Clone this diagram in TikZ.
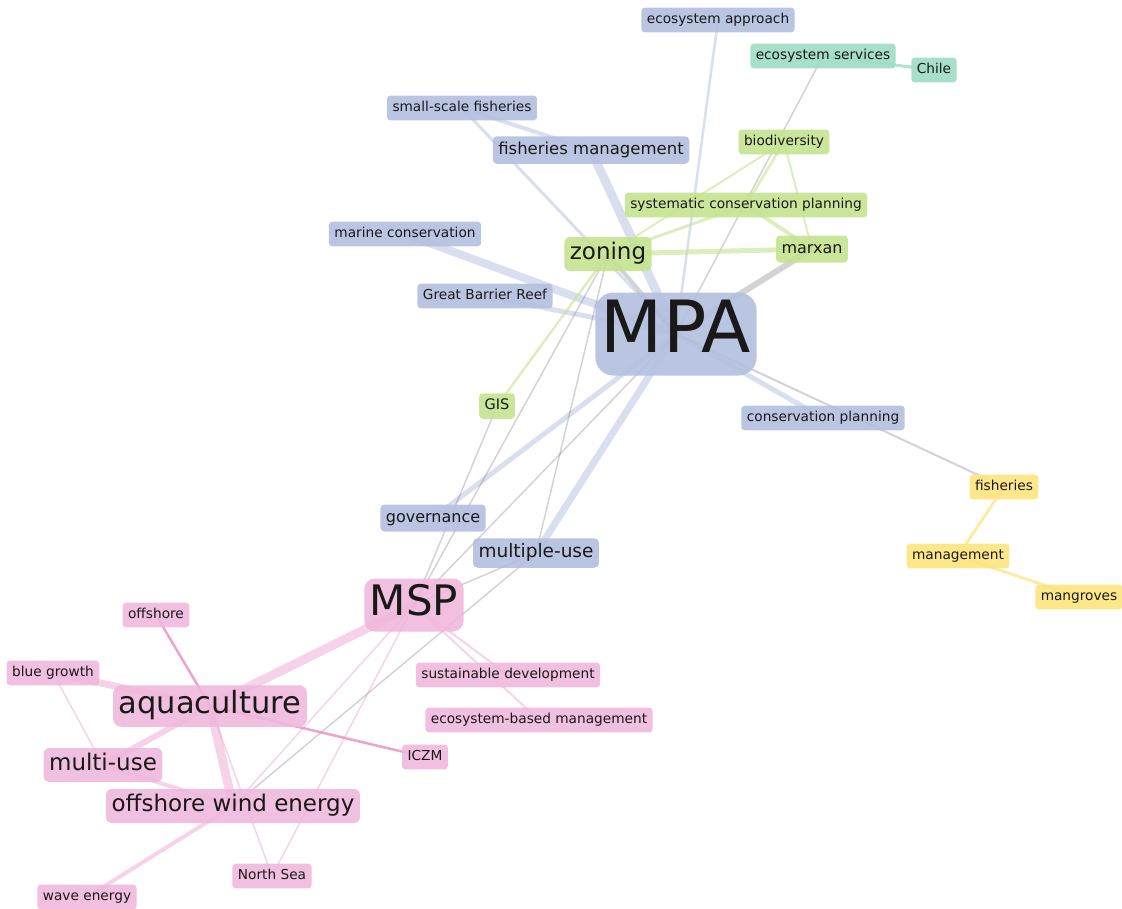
\documentclass[tikz,border=0pt]{standalone}
\usepackage{fontspec}
\setmainfont{DejaVu Sans}
\usetikzlibrary{backgrounds}

\definecolor{mpaBlue}{RGB}{179,191,222}
\definecolor{zoneGreen}{RGB}{196,227,143}
\definecolor{servTeal}{RGB}{158,219,197}
\definecolor{fishYellow}{RGB}{252,228,125}
\definecolor{mspPink}{RGB}{240,184,219}
\definecolor{edgePink}{RGB}{232,140,196}

\begin{document}
\begin{tikzpicture}[x=1pt, y=-1pt,
    term/.style={rounded corners={0.25*#1pt}, inner xsep=5.5pt, inner ysep=5.5pt,
      text height={0.76*#1pt}, text depth={0.24*#1pt}, fill opacity=0.9,
      text opacity=1, text=black!90, font=\fontsize{#1}{#1}\selectfont},
    blueTerm/.style={term=#1, fill=mpaBlue}, blueTerm/.default=13.7,
    greenTerm/.style={term=#1, fill=zoneGreen}, greenTerm/.default=13.7,
    tealTerm/.style={term=#1, fill=servTeal}, tealTerm/.default=13.7,
    yellowTerm/.style={term=#1, fill=fishYellow}, yellowTerm/.default=13.7,
    pinkTerm/.style={term=#1, fill=mspPink}, pinkTerm/.default=13.7,
    blueEdge/.style={draw=mpaBlue, draw opacity=0.5, line width=#1pt},
    greyEdge/.style={draw=gray, draw opacity=0.35, line width=#1pt},
    greenEdge/.style={draw=zoneGreen, draw opacity=0.6, line width=#1pt},
    tealEdge/.style={draw=servTeal, draw opacity=0.8, line width=#1pt},
    yellowEdge/.style={draw=fishYellow, draw opacity=0.7, line width=#1pt},
    pinkEdge/.style={draw=edgePink, draw opacity=0.38, line width=#1pt},
    darkPinkEdge/.style={draw=edgePink, draw opacity=0.8, line width=#1pt}]

    \useasboundingbox (0,0) rectangle (1122,908);

    % MPA cluster
    \node[blueTerm] (ecoApproach) at (718,20) {ecosystem approach};
    \node[blueTerm] (smallScale) at (462,108) {small-scale fisheries};
    \node[blueTerm=16.5] (fishMgmt) at (591,150) {fisheries management};
    \node[blueTerm] (marineCons) at (405,234) {marine conservation};
    \node[blueTerm] (reef) at (485,296) {Great Barrier Reef};
    \node[blueTerm=72] (mpa) at (676,334) {MPA};
    \node[blueTerm] (consPlanning) at (823,418) {conservation planning};
    \node[blueTerm=16] (governance) at (433,518) {governance};
    \node[blueTerm=18.5] (multipleUse) at (536,553) {multiple-use};

    % Zoning cluster
    \node[greenTerm] (biodiversity) at (784,142) {biodiversity};
    \node[greenTerm] (sysConsPlan) at (746,205) {systematic conservation planning};
    \node[greenTerm=23] (zoning) at (608,254) {zoning};
    \node[greenTerm=16] (marxan) at (812,249) {marxan};
    \node[greenTerm=14.5] (gis) at (497,406) {GIS};

    % Services and fisheries
    \node[tealTerm] (ecoServices) at (823,56) {ecosystem services};
    \node[tealTerm] (chile) at (934,70) {Chile};
    \node[yellowTerm] (fisheries) at (1004,487) {fisheries};
    \node[yellowTerm] (management) at (958,556) {management};
    \node[yellowTerm] (mangroves) at (1079,597) {mangroves};

    % MSP cluster
    \node[pinkTerm=42] (msp) at (414,605) {MSP};
    \node[pinkTerm] (offshore) at (156,615) {offshore};
    \node[pinkTerm] (susDev) at (508,675) {sustainable development};
    \node[pinkTerm] (blueGrowth) at (53,673) {blue growth};
    \node[pinkTerm=30.5] (aquaculture) at (210,706) {aquaculture};
    \node[pinkTerm] (ebm) at (539,720) {ecosystem-based management};
    \node[pinkTerm] (iczm) at (425,757) {ICZM};
    \node[pinkTerm=23] (multiUse) at (103,765) {multi-use};
    \node[pinkTerm=23] (windEnergy) at (233,806) {offshore wind energy};
    \node[pinkTerm] (northSea) at (272,876) {North Sea};
    \node[pinkTerm] (waveEnergy) at (87,897) {wave energy};

    \begin{pgfonlayer}{background}
    % Links within MPA cluster
    \draw[blueEdge=9] (mpa.center) -- (fishMgmt.center);
    \draw[blueEdge=8] (mpa.center) -- (marineCons.center);
    \draw[blueEdge=5] (mpa.center) -- (reef.center);
    \draw[blueEdge=3] (mpa.center) -- (smallScale.center);
    \draw[blueEdge=4] (fishMgmt.center) -- (smallScale.center);
    \draw[blueEdge=2.5] (mpa.center) -- (ecoApproach.center);
    \draw[blueEdge=5] (mpa.center) -- (governance.center);
    \draw[blueEdge=7] (mpa.center) -- (multipleUse.center);
    \draw[blueEdge=5] (mpa.center) -- (consPlanning.center);

    % Links between clusters
    \draw[greyEdge=4] (mpa.center) -- (zoning.center);
    \draw[greyEdge=6] (mpa.center) -- (marxan.center);
    \draw[greyEdge=1.5] (mpa.center) -- (ecoServices.center);
    \draw[greyEdge=2] (mpa.center) -- (fisheries.center);
    \draw[greyEdge=1.5] (mpa.center) -- (msp.center);
    \draw[greyEdge=1.5] (msp.center) -- (zoning.center);
    \draw[greyEdge=1.5] (msp.center) -- (gis.center);
    \draw[greyEdge=1.5] (msp.center) -- (multipleUse.center);
    \draw[greyEdge=1.5] (multipleUse.center) -- (zoning.center);
    \draw[greyEdge=1.5] (multipleUse.center) -- (windEnergy.center);

    % Links within zoning cluster
    \draw[greenEdge=5] (zoning.center) -- (marxan.center);
    \draw[greenEdge=3] (zoning.center) -- (sysConsPlan.center);
    \draw[greenEdge=2] (zoning.center) -- (biodiversity.center);
    \draw[greenEdge=2.5] (biodiversity.center) -- (sysConsPlan.center);
    \draw[greenEdge=2] (biodiversity.center) -- (marxan.center);
    \draw[greenEdge=4] (sysConsPlan.center) -- (marxan.center);
    \draw[greenEdge=2.5] (zoning.center) -- (gis.center);

    % Links of services and fisheries
    \draw[tealEdge=3] (ecoServices.center) -- (chile.center);
    \draw[yellowEdge=3] (fisheries.center) -- (management.center);
    \draw[yellowEdge=3] (management.center) -- (mangroves.center);

    % Links within MSP cluster
    \draw[pinkEdge=9] (msp.center) -- (aquaculture.center);
    \draw[pinkEdge=2] (msp.center) -- (susDev.center);
    \draw[pinkEdge=2] (msp.center) -- (ebm.center);
    \draw[pinkEdge=1.5] (msp.center) -- (windEnergy.center);
    \draw[pinkEdge=1.5] (msp.center) -- (northSea.center);
    \draw[pinkEdge=7] (aquaculture.center) -- (blueGrowth.center);
    \draw[darkPinkEdge=2.5] (aquaculture.center) -- (iczm.center);
    \draw[darkPinkEdge=2.5] (aquaculture.center) -- (offshore.center);
    \draw[pinkEdge=6] (aquaculture.center) -- (multiUse.center);
    \draw[pinkEdge=9] (aquaculture.center) -- (windEnergy.center);
    \draw[pinkEdge=4] (multiUse.center) -- (windEnergy.center);
    \draw[pinkEdge=1.5] (blueGrowth.center) -- (multiUse.center);
    \draw[pinkEdge=4] (windEnergy.center) -- (waveEnergy.center);
    \draw[pinkEdge=1.5] (aquaculture.center) -- (northSea.center);
    \end{pgfonlayer}

\end{tikzpicture}
\end{document}
